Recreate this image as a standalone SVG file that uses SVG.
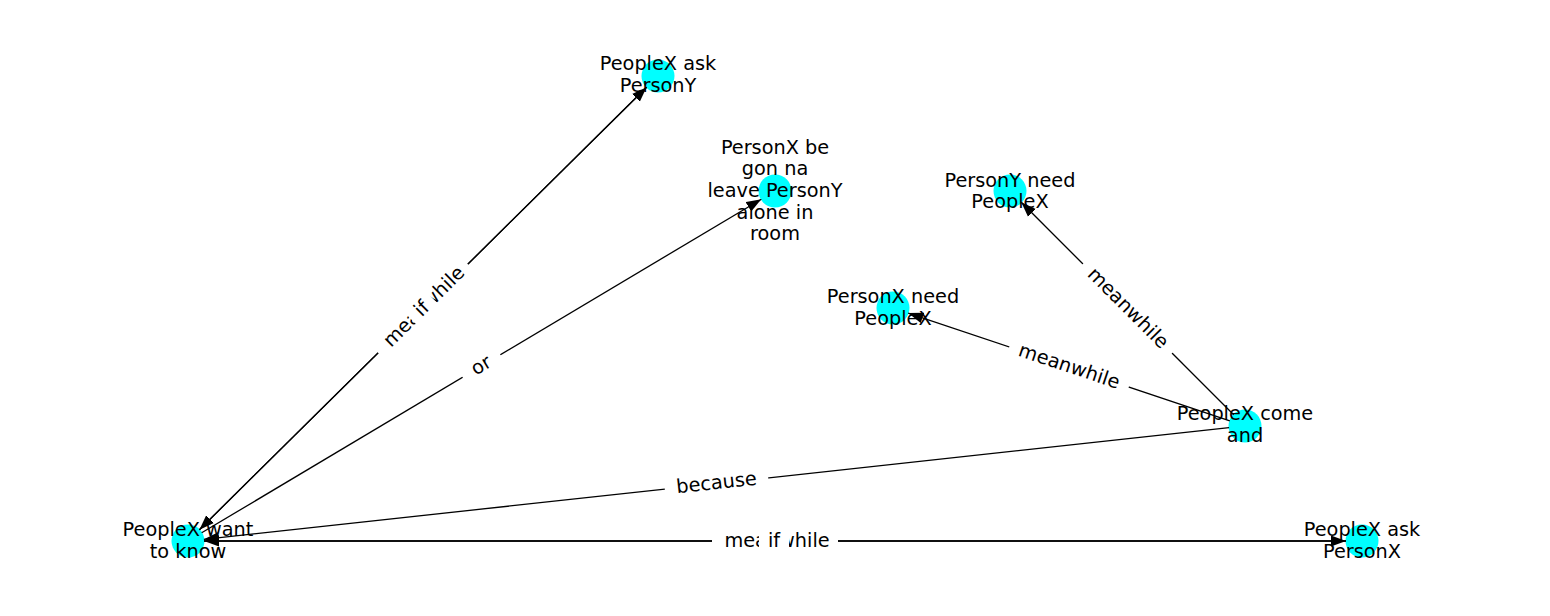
<svg xmlns="http://www.w3.org/2000/svg" width="1550" height="616" viewBox="0 0 1550 616">
<style>
  .node circle { fill: #00ffff; stroke: none; }
  .nlabel { font-family: "DejaVu Sans", sans-serif; font-size: 19.3px; fill: #000; text-anchor: middle; }
  .elabel { font-family: "DejaVu Sans", sans-serif; font-size: 19.3px; fill: #000; text-anchor: middle; }
  .edge { stroke: #000; stroke-width: 1.3; fill: none; marker-end: url(#arrow); }
  .lbox { fill: #fff; stroke: none; }
</style>
<defs>
  <marker id="arrow" markerUnits="userSpaceOnUse" markerWidth="16" markerHeight="12" refX="15" refY="5.5" orient="auto" viewBox="0 0 16 11">
    <path d="M0,0 L15,5.5 L0,11 z" fill="#000"/>
  </marker>
</defs>
<rect width="1550" height="616" fill="#fff"/>
<g id="nodes-shapes">
  <g id="node-A" class="node"><circle cx="658" cy="76" r="16.5"/></g>
  <g id="node-B" class="node"><circle cx="775" cy="191" r="16.5"/></g>
  <g id="node-C" class="node"><circle cx="1010" cy="191" r="16.5"/></g>
  <g id="node-D" class="node"><circle cx="893" cy="308" r="16.5"/></g>
  <g id="node-E" class="node"><circle cx="1245" cy="426" r="16.5"/></g>
  <g id="node-F" class="node"><circle cx="188" cy="541" r="16.5"/></g>
  <g id="node-G" class="node"><circle cx="1362" cy="541" r="16.5"/></g>
</g>
<g id="connectors">
  <path class="edge" d="M646.6,87.3 L199.4,529.7"/>
  <path class="edge" d="M199.4,529.7 L646.6,87.3"/>
  <path class="edge" d="M201.7,532.8 L761.3,199.2"/>
  <path class="edge" d="M1229.1,427.7 L203.9,539.3"/>
  <path class="edge" d="M204,541 L1346,541"/>
  <path class="edge" d="M1346,541 L204,541"/>
  <path class="edge" d="M1229.8,420.9 L908.2,313.1"/>
  <path class="edge" d="M1233.7,414.7 L1021.3,202.3"/>
  <g id="edge-labels">
    <g transform="translate(423,308.5) rotate(-44.7)">
      <rect class="lbox" x="-63" y="-15" width="126" height="30" rx="6"/>
      <text class="elabel" x="2" y="5.5">meanwhile</text>
      <rect class="lbox" x="-16" y="-15" width="30" height="30" rx="5"/>
      <text class="elabel" x="-1" y="5.5">if</text>
    </g>
    <g transform="translate(481.5,366) rotate(-30.8)">
      <rect class="lbox" x="-22" y="-15" width="44" height="30" rx="6"/>
      <text class="elabel" y="5.5">or</text>
    </g>
    <g transform="translate(716.5,483.5) rotate(-6.2)">
      <rect class="lbox" x="-52" y="-15" width="104" height="30" rx="6"/>
      <text class="elabel" y="5.5">because</text>
    </g>
    <g transform="translate(775,541)">
      <rect class="lbox" x="-63" y="-15" width="126" height="30" rx="6"/>
      <text class="elabel" x="2" y="5.5">meanwhile</text>
      <rect class="lbox" x="-16" y="-15" width="30" height="30" rx="5"/>
      <text class="elabel" x="-1" y="5.5">if</text>
    </g>
    <g transform="translate(1069,367) rotate(18.5)">
      <rect class="lbox" x="-63" y="-15" width="126" height="30" rx="6"/>
      <text class="elabel" y="5.5">meanwhile</text>
    </g>
    <g transform="translate(1127.5,308.5) rotate(45)">
      <rect class="lbox" x="-63" y="-15" width="126" height="30" rx="6"/>
      <text class="elabel" y="5.5">meanwhile</text>
    </g>
  </g>
</g>
<g id="node-labels">
  <text class="nlabel" x="658"><tspan x="658" y="70">PeopleX ask</tspan><tspan x="658" y="92">PersonY</tspan></text>
  <text class="nlabel" x="775"><tspan x="775" y="153.5">PersonX be</tspan><tspan x="775" y="175.2">gon na</tspan><tspan x="775" y="196.9">leave PersonY</tspan><tspan x="775" y="218.6">alone in</tspan><tspan x="775" y="240.3">room</tspan></text>
  <text class="nlabel" x="1010"><tspan x="1010" y="186.5">PersonY need</tspan><tspan x="1010" y="208.3">PeopleX</tspan></text>
  <text class="nlabel" x="893"><tspan x="893" y="303">PersonX need</tspan><tspan x="893" y="324.8">PeopleX</tspan></text>
  <text class="nlabel" x="1245"><tspan x="1245" y="419.8">PeopleX come</tspan><tspan x="1245" y="441.6">and</tspan></text>
  <text class="nlabel" x="188"><tspan x="188" y="536">PeopleX want</tspan><tspan x="188" y="557.8">to know</tspan></text>
  <text class="nlabel" x="1362"><tspan x="1362" y="536">PeopleX ask</tspan><tspan x="1362" y="557.8">PersonX</tspan></text>
</g>
</svg>
